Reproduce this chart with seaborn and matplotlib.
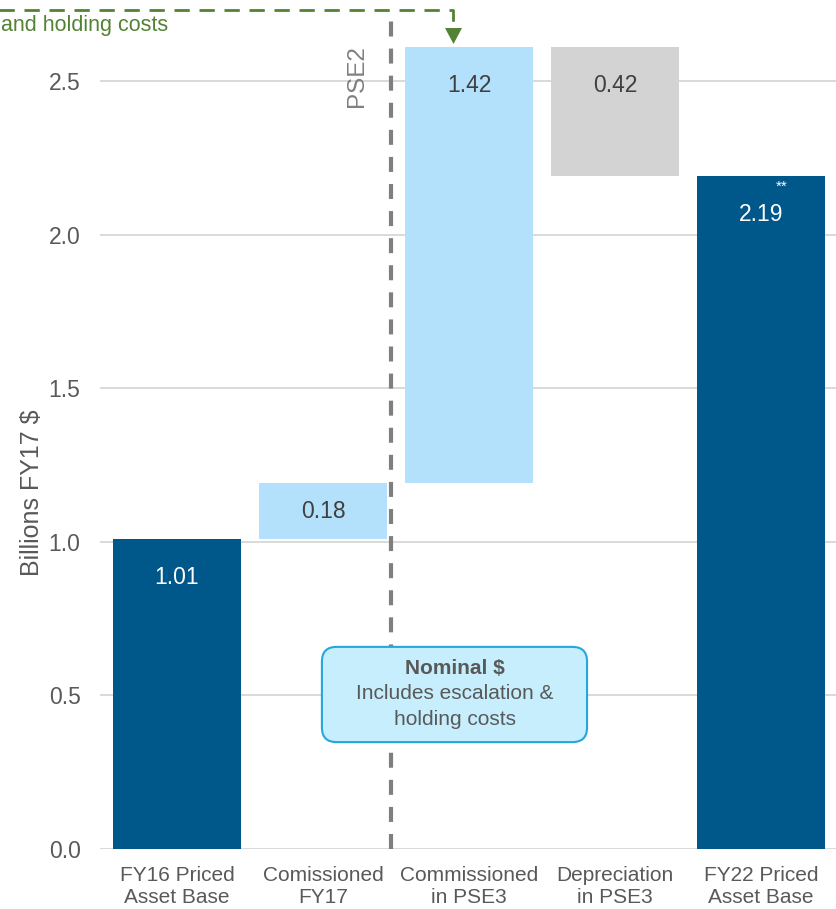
import matplotlib
matplotlib.use("Agg")
import matplotlib.pyplot as plt
import seaborn as sns
import pandas as pd
from matplotlib.patches import FancyBboxPatch, Polygon
from matplotlib.lines import Line2D

# Waterfall steps of the priced asset base (billions, FY17 $)
categories = ["FY16 Priced\nAsset Base", "Comissioned\nFY17", "Commissioned\nin PSE3",
              "Depreciation\nin PSE3", "FY22 Priced\nAsset Base"]
values = [1.01, 0.18, 1.42, 0.42, 2.19]
kinds = ["total", "increase", "increase", "decrease", "total"]
y_ticks = [0.0, 0.5, 1.0, 1.5, 2.0, 2.5]

kind_colors = {"total": "#00578A", "increase": "#B3E1FB", "decrease": "#D3D3D3"}
label_colors = {"total": "white", "increase": "#404040", "decrease": "#404040"}

# running level of the waterfall gives each bar its base
bottoms = []
level = 0.0
for v, k in zip(values, kinds):
    if k == "total":
        bottoms.append(0.0)
        level = v
    elif k == "increase":
        bottoms.append(level)
        level += v
    else:
        level -= v
        bottoms.append(level)

df = pd.DataFrame({"category": categories, "value": values,
                   "bottom": bottoms, "kind": kinds})

sns.set_theme(style="white")
plt.rcParams["font.family"] = ["Liberation Sans", "DejaVu Sans"]

W, H = 837, 909
fig = plt.figure(figsize=(W / 100, H / 100), dpi=100)
ax = fig.add_axes([100 / W, 60 / H, 737 / W, 849 / H])


def fig_px(x, y):
    return (x / W, 1 - y / H)


sns.barplot(data=df, x="category", y="value", bottom=df["bottom"].to_numpy(),
            color=kind_colors["total"], width=0.877, linewidth=0, ax=ax, zorder=2)
for patch, k in zip(ax.patches, kinds):
    patch.set_facecolor(kind_colors[k])
    patch.set_edgecolor("none")

ax.set_xlim(-0.527, 4.521)
ax.set_ylim(0, 2.764)
ax.set_yticks(y_ticks)
ax.set_yticklabels([f"{t:.1f}" for t in y_ticks])
ax.yaxis.grid(True, color="#D9D9D9", linewidth=1.4, zorder=0)
ax.xaxis.grid(False)
ax.set_axisbelow(True)
sns.despine(ax=ax, left=True, bottom=True)
ax.tick_params(axis="y", length=0, pad=14, labelsize=16.5, labelcolor="#595959")
ax.tick_params(axis="x", length=0, pad=12, labelsize=15, labelcolor="#595959")
for lab in ax.get_xticklabels():
    lab.set_linespacing(1.25)
ax.set_xlabel("")
ax.set_ylabel("Billions FY17 $", fontsize=18, color="#595959")
ax.yaxis.set_label_coords(-0.076, 0.42)

# value labels
for i, (v, b, k) in enumerate(zip(values, bottoms, kinds)):
    top = b + v
    y = top - min(0.125, v / 2)
    ax.text(i, y, f"{v:.2f}", ha="center", va="center", fontsize=16.5,
            color=label_colors[k], zorder=4)
ax.text(4.1, 2.155, "**", ha="left", va="center", fontsize=11, color="white", zorder=4)

# PSE2 boundary
ax.plot([1.466, 1.466], [0, 2.70], color="#7F7F7F", linewidth=3,
        linestyle=(0, (3.6, 2.9)), zorder=3, clip_on=False)
ax.text(1.235, 2.515, "PSE2", rotation=90, ha="center", va="center",
        fontsize=17.5, color="#808080", zorder=4)

# nominal callout
box = FancyBboxPatch((0.993, 0.348), 1.816, 0.31,
                     boxstyle="round,pad=0,rounding_size=0.1",
                     mutation_aspect=146 / 307.2,
                     facecolor="#C6EEFC", edgecolor="#26A6DE", linewidth=1.5, zorder=5)
ax.add_patch(box)
ax.text(1.904, 0.589, "Nominal $", ha="center", va="center", fontsize=15,
        fontweight="bold", color="#595959", zorder=6)
ax.text(1.904, 0.505, "Includes escalation &", ha="center", va="center",
        fontsize=15, color="#595959", zorder=6)
ax.text(1.904, 0.423, "holding costs", ha="center", va="center",
        fontsize=15, color="#595959", zorder=6)

# green pointer from the note above
green = "#548235"
xs, ys = zip(fig_px(-5, 10), fig_px(453, 10), fig_px(453, 29))
fig.add_artist(Line2D(xs, ys, transform=fig.transFigure, color=green,
                      linewidth=2, linestyle=(0, (5.5, 3.5))))
fig.add_artist(Polygon([fig_px(445, 28), fig_px(462, 28), fig_px(453.5, 44)],
                       closed=True, transform=fig.transFigure,
                       facecolor=green, edgecolor="none"))
fig.text(*fig_px(1, 26), "and holding costs", ha="left", va="center",
         fontsize=15.5, color=green)

fig.savefig("out.png", dpi=100)
